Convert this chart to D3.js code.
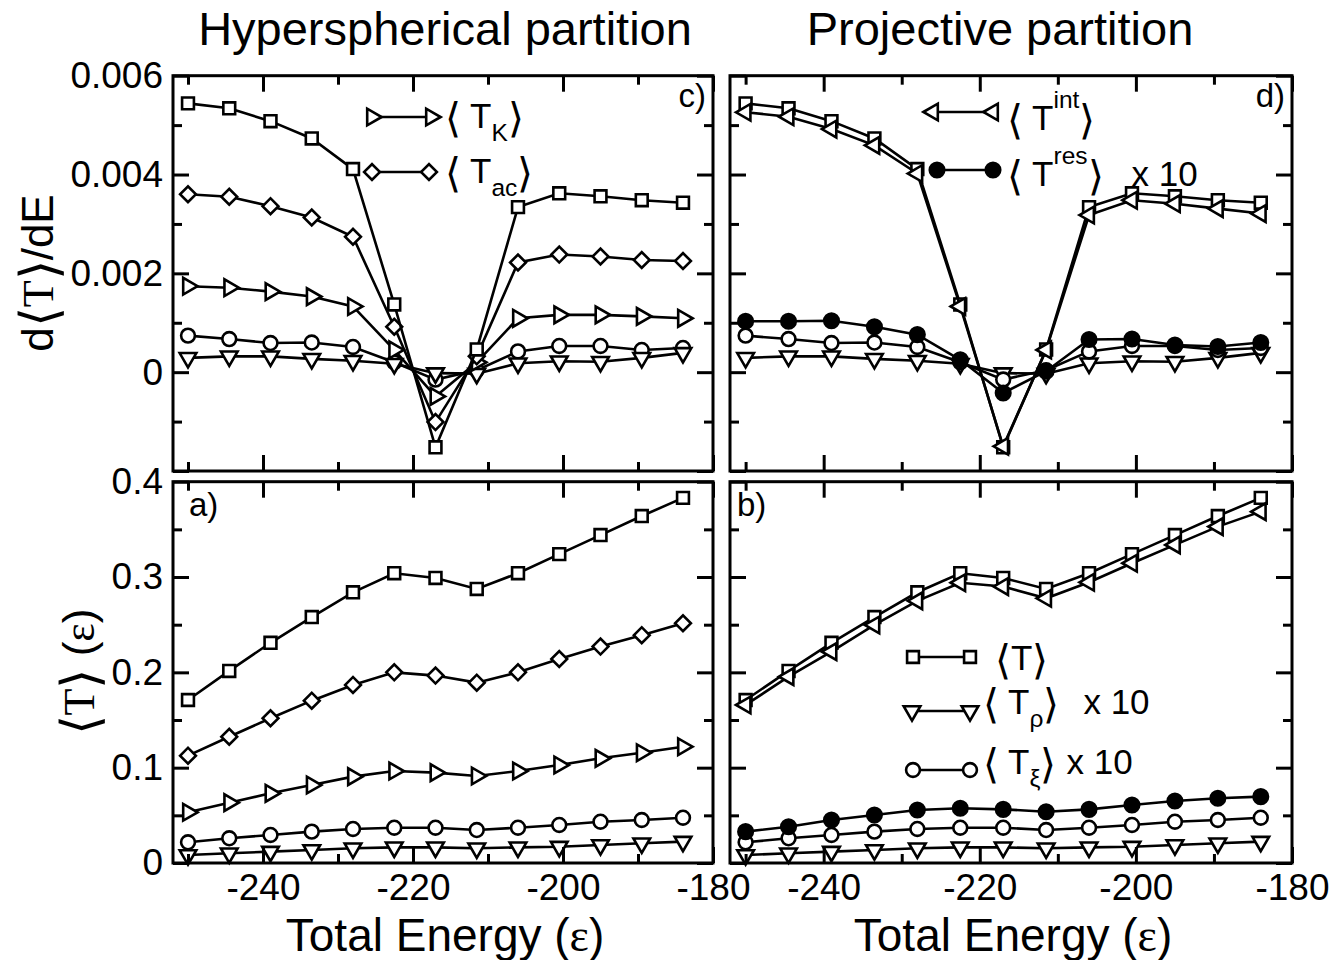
<!DOCTYPE html>
<meta charset="utf-8">
<title>Hyperspherical vs projective partition</title>
<style>

body { margin: 0; background: #fff; }

svg { display: block; font-family: "Liberation Sans", Arial, sans-serif; }

.frame {
  fill: none;
  stroke: #000;
  stroke-width: 3px;
}

.axis line {
  stroke: #000;
  stroke-width: 3px;
}

.axis text { fill: #000; }

.line {
  fill: none;
  stroke: #000;
  stroke-width: 2.6px;
}

.sym {
  fill: #fff;
  stroke: #000;
  stroke-width: 2.6px;
}

.sym.filled { fill: #000; }

</style>
<svg width="1334" height="960"></svg>
<script src="https://d3js.org/d3.v7.min.js"></script>
<script>

// total energy of each run
var energy = [-250, -244.5, -239, -233.5, -228, -222.5, -217, -211.5, -206, -200.5, -195, -189.5, -184];

// d<T>/dE (top panels c and d)
var dT    = [0.00544, 0.00534, 0.00508, 0.00473, 0.00411, 0.00137, -0.00152, 0.00046, 0.00334, 0.00362, 0.00356, 0.00348, 0.00343];
var dTac  = [0.00360, 0.00355, 0.00336, 0.00313, 0.00274, 0.00092, -0.00101, 0.00032, 0.00222, 0.00238, 0.00234, 0.00227, 0.00225];
var dTK   = [0.00174, 0.00171, 0.00163, 0.00153, 0.00133, 0.00045, -0.00049, 0.00020, 0.00109, 0.00116, 0.00116, 0.00113, 0.00109];
var dTxi  = [0.00074, 0.00067, 0.00059, 0.00060, 0.00051, 0.00020, -0.00015, 0.00004, 0.00042, 0.00053, 0.00053, 0.00045, 0.00049];
var dTrho = [0.00029, 0.00032, 0.00032, 0.00027, 0.00023, 0.00017, -0.00002, -0.00003, 0.00018, 0.00022, 0.00021, 0.00029, 0.00039];
var dTint = [0.00526, 0.00517, 0.00492, 0.00459, 0.00402, 0.00133, -0.00150, 0.00045, 0.00318, 0.00348, 0.00341, 0.00331, 0.00321];
var dTres = [0.00103, 0.00103, 0.00104, 0.00092, 0.00076, 0.00025, -0.00042, 0.00002, 0.00066, 0.00067, 0.00055, 0.00052, 0.00060];

// <T> (bottom panels a and b)
var T    = [0.171, 0.2015, 0.231, 0.258, 0.284, 0.304, 0.299, 0.2875, 0.304, 0.324, 0.344, 0.364, 0.383];
var Tac  = [0.1126, 0.1325, 0.1518, 0.1703, 0.1868, 0.200, 0.1966, 0.1892, 0.200, 0.214, 0.227, 0.239, 0.2515];
var TK   = [0.0532, 0.0633, 0.0731, 0.0818, 0.0906, 0.0965, 0.0948, 0.0913, 0.0965, 0.1028, 0.1098, 0.1157, 0.122];
var Txi  = [0.0217, 0.0259, 0.0294, 0.0329, 0.0357, 0.037, 0.037, 0.0346, 0.037, 0.0399, 0.0433, 0.0451, 0.0475];
var Trho = [0.0084, 0.0102, 0.0119, 0.0136, 0.0154, 0.0164, 0.0164, 0.0154, 0.0164, 0.0171, 0.0189, 0.0207, 0.0224];
var Tint = [0.1658, 0.1955, 0.2217, 0.2497, 0.275, 0.294, 0.290, 0.2777, 0.2945, 0.3145, 0.3337, 0.3529, 0.3686];
var Tres = [0.0329, 0.0381, 0.0451, 0.0504, 0.0556, 0.0574, 0.0563, 0.0538, 0.0563, 0.0609, 0.0651, 0.0679, 0.0696];

// ticks
var xMajor = [-240, -220, -200, -180];
var xMinor = [-250, -230, -210, -190];
var yTopMajor = [-0.002, 0, 0.002, 0.004, 0.006];
var yTopMinor = [-0.001, 0.001, 0.003, 0.005];
var yBotMajor = [0, 0.1, 0.2, 0.3, 0.4];
var yBotMinor = [0.05, 0.15, 0.25, 0.35];

var svg = d3.select("svg");

var majorLen = 16, minorLen = 9;

var cols = [{x0: 173, x1: 713}, {x0: 730, x1: 1292}];
var rows = [
  {y0: 75.7, y1: 471, domain: [-0.002, 0.006], major: yTopMajor, minor: yTopMinor,
   fmt: function(v) { return v === 0 ? "0" : v < 0 ? "" : v.toFixed(3); }},
  {y0: 481.7, y1: 863, domain: [0, 0.4], major: yBotMajor, minor: yBotMinor,
   fmt: function(v) { return v === 0 ? "0" : v.toFixed(1); }}
];

var symbols = {
  square:  {type: d3.symbolSquare, size: 140, rot: 0},
  diamond: {type: d3.symbolSquare, size: 125, rot: 45},
  circle:  {type: d3.symbolCircle, size: 150, rot: 0},
  dot:     {type: d3.symbolCircle, size: 165, rot: 0, filled: true},
  right:   {type: d3.symbolTriangle, size: 120, rot: 90},
  down:    {type: d3.symbolTriangle, size: 120, rot: 180},
  left:    {type: d3.symbolTriangle, size: 120, rot: -90}
};

function drawSym(g, name, px, py) {
  var s = symbols[name];
  g.append("path")
    .attr("class", "sym" + (s.filled ? " filled" : ""))
    .attr("d", d3.symbol().type(s.type).size(s.size)())
    .attr("transform", "translate(" + px + "," + py + ") rotate(" + s.rot + ")");
}

// text made of pieces: tall brackets, serif letters, sub/superscripts
function richText(g, x, y, size, parts, anchor) {
  var t = g.append("text").attr("x", x).attr("y", y).attr("font-size", size)
    .attr("text-anchor", anchor || "start");
  var shift = 0;
  parts.forEach(function(p) {
    var s = t.append("tspan").text(p.t);
    var want = p.sub ? size * 0.38 : p.sup ? -size * 0.62 : p.br ? size * 0.1 : 0;
    if (want !== shift) { s.attr("dy", want - shift); shift = want; }
    if (p.sub || p.sup) s.attr("font-size", size * 0.7);
    if (p.br) s.attr("font-family", "DejaVu Sans").attr("font-weight", 200).attr("font-size", size * 1.18);
    if (p.serif) s.attr("font-family", "Liberation Serif");
    if (p.dx) s.attr("dx", p.dx);
  });
  return t;
}

var panels = [
  {col: 0, row: 0, series: [
    {v: dTxi, sym: "circle"}, {v: dTrho, sym: "down"}, {v: dTK, sym: "right"},
    {v: dTac, sym: "diamond"}, {v: dT, sym: "square"}]},
  {col: 1, row: 0, series: [
    {v: dTrho, sym: "down"}, {v: dTxi, sym: "circle"}, {v: dTres, sym: "dot"},
    {v: dT, sym: "square"}, {v: dTint, sym: "left"}]},
  {col: 0, row: 1, series: [
    {v: Trho, sym: "down"}, {v: Txi, sym: "circle"}, {v: TK, sym: "right"},
    {v: Tac, sym: "diamond"}, {v: T, sym: "square"}]},
  {col: 1, row: 1, series: [
    {v: Trho, sym: "down"}, {v: Txi, sym: "circle"}, {v: Tres, sym: "dot"},
    {v: T, sym: "square"}, {v: Tint, sym: "left"}]}
];

panels.forEach(function(p) {
  var c = cols[p.col], r = rows[p.row];
  var x = d3.scaleLinear().domain([-252, -180]).range([c.x0, c.x1]);
  var y = d3.scaleLinear().domain(r.domain).range([r.y1, r.y0]);
  var g = svg.append("g");

  var line = d3.line()
    .x(function(d, i) { return x(energy[i]); })
    .y(function(d) { return y(d); });

  p.series.forEach(function(s) {
    g.append("path").attr("class", "line").attr("d", line(s.v));
    s.v.forEach(function(d, i) { drawSym(g, s.sym, x(energy[i]), y(d)); });
  });

  g.append("rect").attr("class", "frame")
    .attr("x", c.x0).attr("y", r.y0)
    .attr("width", c.x1 - c.x0).attr("height", r.y1 - r.y0);

  var none = function() { return ""; };
  var fmtX = function(v) { return String(v); };
  var xLab = p.row === 1, yLab = p.col === 0;

  function addAxis(axis, tx, ty) {
    var a = g.append("g").attr("class", "axis")
      .attr("transform", "translate(" + tx + "," + ty + ")")
      .call(axis);
    a.attr("font-size", 37).attr("font-family", null);
    a.select(".domain").remove();
    return a;
  }

  addAxis(d3.axisBottom(x).tickValues(xMajor).tickSize(-majorLen).tickPadding(11)
    .tickFormat(xLab ? fmtX : none), 0, r.y1);
  addAxis(d3.axisBottom(x).tickValues(xMinor).tickSize(-minorLen).tickFormat(none), 0, r.y1);
  addAxis(d3.axisTop(x).tickValues(xMajor).tickSize(-majorLen).tickFormat(none), 0, r.y0);
  addAxis(d3.axisTop(x).tickValues(xMinor).tickSize(-minorLen).tickFormat(none), 0, r.y0);
  addAxis(d3.axisLeft(y).tickValues(r.major).tickSize(-majorLen).tickPadding(10)
    .tickFormat(yLab ? r.fmt : none), c.x0, 0);
  addAxis(d3.axisLeft(y).tickValues(r.minor).tickSize(-minorLen).tickFormat(none), c.x0, 0);
  addAxis(d3.axisRight(y).tickValues(r.major).tickSize(-majorLen).tickFormat(none), c.x1, 0);
  addAxis(d3.axisRight(y).tickValues(r.minor).tickSize(-minorLen).tickFormat(none), c.x1, 0);
});

// panel tags
svg.append("text").attr("x", 706).attr("y", 107).attr("font-size", 33)
  .attr("text-anchor", "end").text("c)");
svg.append("text").attr("x", 1285).attr("y", 107).attr("font-size", 33)
  .attr("text-anchor", "end").text("d)");
svg.append("text").attr("x", 189).attr("y", 516).attr("font-size", 33).text("a)");
svg.append("text").attr("x", 737).attr("y", 516).attr("font-size", 33).text("b)");

// legends
function legendEntry(sym, xa, xb, yy) {
  svg.append("line").attr("class", "line")
    .attr("x1", xa).attr("x2", xb).attr("y1", yy).attr("y2", yy);
  drawSym(svg, sym, xa, yy);
  drawSym(svg, sym, xb, yy);
}

legendEntry("right", 372, 431, 117);
richText(svg, 445, 128, 35, [{t: "\u27E8", br: 1}, {t: " T"}, {t: "K", sub: 1}, {t: "\u27E9", br: 1}]);
legendEntry("diamond", 372, 429, 172);
richText(svg, 445, 183, 35, [{t: "\u27E8", br: 1}, {t: " T"}, {t: "ac", sub: 1}, {t: "\u27E9", br: 1}]);

legendEntry("left", 933, 993, 112);
richText(svg, 1007, 130, 35, [{t: "\u27E8", br: 1}, {t: " T"}, {t: "int", sup: 1}, {t: "\u27E9", br: 1}]);
legendEntry("dot", 937, 993, 170);
richText(svg, 1007, 186, 35, [{t: "\u27E8", br: 1}, {t: " T"}, {t: "res", sup: 1}, {t: "\u27E9", br: 1},
  {t: "x 10", dx: 28}]);

legendEntry("square", 913, 970, 657);
richText(svg, 995, 670, 35, [{t: "\u27E8", br: 1}, {t: "T"}, {t: "\u27E9", br: 1}]);
legendEntry("down", 912, 970, 711);
richText(svg, 983, 714, 35, [{t: "\u27E8", br: 1}, {t: " T"}, {t: "\u03C1", sub: 1}, {t: "\u27E9", br: 1},
  {t: "x 10", dx: 24}]);
legendEntry("circle", 913, 970, 770);
richText(svg, 983, 774, 35, [{t: "\u27E8", br: 1}, {t: " T"}, {t: "\u03BE", sub: 1}, {t: "\u27E9", br: 1},
  {t: "x 10", dx: 10}]);

// titles
svg.append("text").attr("x", 445).attr("y", 45).attr("font-size", 47)
  .attr("text-anchor", "middle").text("Hyperspherical partition");
svg.append("text").attr("x", 1000).attr("y", 45).attr("font-size", 47)
  .attr("text-anchor", "middle").text("Projective partition");

// axis titles
[445, 1013].forEach(function(cx) {
  richText(svg, cx, 951, 46, [{t: "Total Energy ("}, {t: "\u03B5", serif: 1}, {t: ")"}], "middle");
});

richText(svg, 0, 0, 44, [{t: "d"}, {t: "\u27E8", br: 1}, {t: "T", serif: 1}, {t: "\u27E9", br: 1}, {t: "/dE"}], "middle")
  .attr("transform", "translate(53,273) rotate(-90)");
richText(svg, 0, 0, 44, [{t: "\u27E8", br: 1}, {t: "T", serif: 1}, {t: "\u27E9", br: 1}, {t: " ("},
  {t: "\u03B5", serif: 1}, {t: ")"}], "middle")
  .attr("transform", "translate(94,672) rotate(-90)");

</script>
